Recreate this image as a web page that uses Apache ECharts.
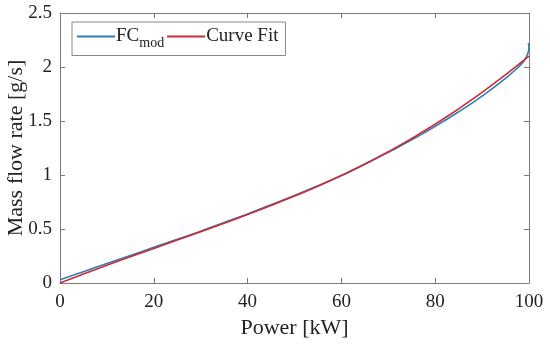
<!DOCTYPE html>
<html>
<head>
<meta charset="utf-8">
<script src="https://cdn.jsdelivr.net/npm/echarts@6/dist/echarts.min.js"></script>
<style>html,body{margin:0;padding:0;background:#fff}#c{width:550px;height:345px}</style>
</head>
<body>
<div id="c"></div>
<script>
// Data
var fcX = [0, 2, 5, 10, 15, 20, 25, 30, 35, 40, 45, 50, 55, 60, 65, 70, 75, 80, 85, 90, 95, 98, 99, 99.5, 99.9, 100, 99.8];
var fcY = [0.03, 0.06, 0.105, 0.18, 0.255, 0.33, 0.405, 0.48, 0.56, 0.64, 0.725, 0.81, 0.9, 0.995, 1.1, 1.21, 1.325, 1.45, 1.585, 1.73, 1.895, 2.01, 2.06, 2.1, 2.15, 2.19, 2.22];
var fitX = [0, 10, 20, 30, 40, 50, 60, 70, 80, 90, 100];
var fitY = [0, 0.165, 0.32, 0.475, 0.635, 0.805, 0.995, 1.215, 1.47, 1.765, 2.1];
var xTicks = [0, 20, 40, 60, 80, 100];
var yTicks = [0, 0.5, 1, 1.5, 2, 2.5];

function pairs(xs, ys) { return xs.map(function (x, i) { return [x, ys[i]]; }); }

var font = 'Liberation Serif';
var axisCol = '#7a7a7a';
var chart = echarts.init(document.getElementById('c'));
var baseAxis = {
  type: 'value',
  axisLine: { show: true, onZero: false, lineStyle: { color: axisCol, width: 1 } },
  axisTick: { show: true, inside: true, length: 5, lineStyle: { color: axisCol } },
  splitLine: { show: false },
  axisLabel: { color: '#222', fontFamily: font, fontSize: 19 }
};
chart.setOption({
  animation: false,
  backgroundColor: '#fff',
  grid: { left: 60, right: 21, top: 13, bottom: 62, containLabel: false, outerBoundsMode: 'none' },
  legend: {
    left: 72, top: 22,
    padding: [5, 7, 5, 5],
    itemWidth: 38, itemHeight: 2, itemGap: 3,
    borderColor: '#888', borderWidth: 1, backgroundColor: '#fff',
    data: [{ name: 'FC_mod', icon: 'rect' }, { name: 'Curve Fit', icon: 'rect' }],
    formatter: function (n) { return n === 'FC_mod' ? '{a|FC}{b|mod}' : '{a|' + n + '}'; },
    textStyle: {
      fontFamily: font, color: '#222', padding: [0, 0, 0, -4],
      rich: {
        a: { fontFamily: font, fontSize: 19, color: '#222' },
        b: { fontFamily: font, fontSize: 14, color: '#222', padding: [14, 0, 0, 0] }
      }
    }
  },
  xAxis: [
    Object.assign({}, baseAxis, {
      min: 0, max: 100, interval: 20, position: 'bottom',
      name: 'Power [kW]', nameLocation: 'middle', nameGap: 34, nameMoveOverlap: false,
      nameTextStyle: { fontFamily: font, fontSize: 22, color: '#222' },
      axisLabel: Object.assign({}, baseAxis.axisLabel, { margin: 10,
        formatter: function (v) { return xTicks.indexOf(v) >= 0 ? String(v) : ''; } })
    }),
    Object.assign({}, baseAxis, {
      min: 0, max: 100, interval: 20, position: 'top', axisLabel: { show: false }
    })
  ],
  yAxis: [
    Object.assign({}, baseAxis, {
      min: 0, max: 2.5, interval: 0.5, position: 'left',
      name: 'Mass flow rate [g/s]', nameLocation: 'middle', nameGap: 33, nameMoveOverlap: false,
      nameTextStyle: { fontFamily: font, fontSize: 22, color: '#222' },
      axisLabel: Object.assign({}, baseAxis.axisLabel, { margin: 8,
        formatter: function (v) { return yTicks.indexOf(v) >= 0 ? String(v) : ''; } })
    }),
    Object.assign({}, baseAxis, {
      min: 0, max: 2.5, interval: 0.5, position: 'right', axisLabel: { show: false }
    })
  ],
  series: [
    { name: 'FC_mod', type: 'line', data: pairs(fcX, fcY), symbol: 'none', smooth: true,
      lineStyle: { color: '#2f7fb5', width: 1.6 }, itemStyle: { color: '#2f7fb5' } },
    { name: 'Curve Fit', type: 'line', data: pairs(fitX, fitY), symbol: 'none', smooth: true,
      lineStyle: { color: '#cc2a36', width: 1.6 }, itemStyle: { color: '#cc2a36' } }
  ]
});
</script>
</body>
</html>
